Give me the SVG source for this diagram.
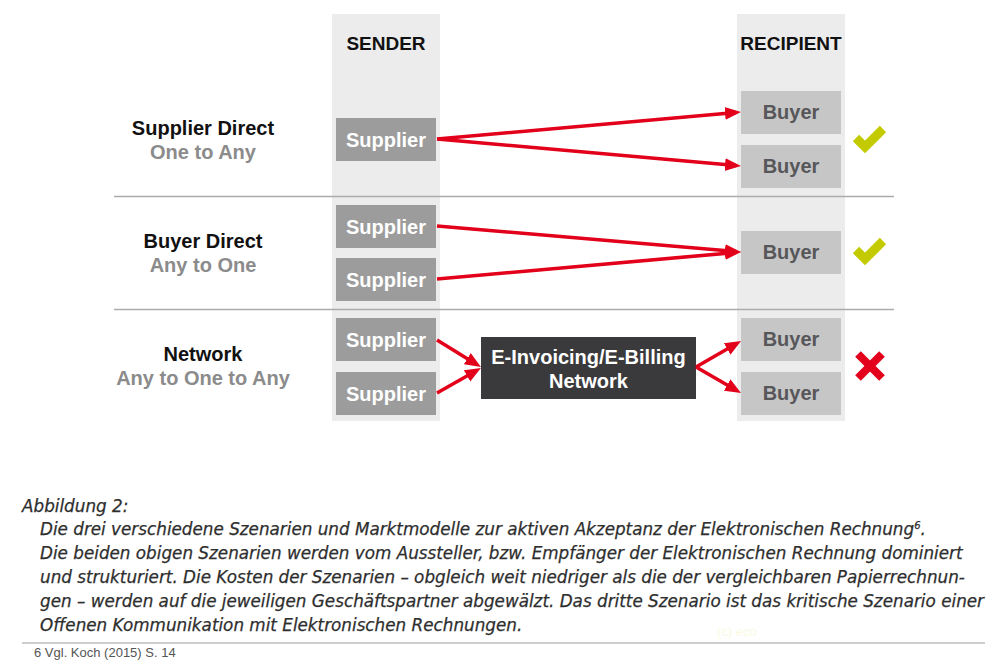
<svg xmlns="http://www.w3.org/2000/svg" width="993" height="667" viewBox="0 0 993 667">
<defs>
<style>
.band{fill:#ececec}
.sup{fill:#9c9c9c}
.buy{fill:#c6c6c7}
.net{fill:#3a3a3c}
.bt{font-family:"Liberation Sans",Arial,sans-serif;font-weight:bold;font-size:20px;text-anchor:middle}
.st{fill:#ffffff}
.byt{fill:#57575a}
.hd{font-family:"Liberation Sans",Arial,sans-serif;font-weight:bold;font-size:19px;text-anchor:middle;fill:#111}
.lt{font-family:"Liberation Sans",Arial,sans-serif;font-weight:bold;font-size:20px;text-anchor:middle;fill:#111}
.lg{fill:#8b8b8b}
.sep{stroke:#ababab;stroke-width:1.3}
.arr{stroke:#e2001a;stroke-width:3.5;fill:none;marker-end:url(#ah)}
.cap{font-family:"DejaVu Sans",sans-serif;font-style:italic;font-size:16.8px;fill:#2e2e2e;stroke:#2e2e2e;stroke-width:0.25}
</style>
<marker id="ah" markerUnits="userSpaceOnUse" markerWidth="17" markerHeight="14" refX="11" refY="7" orient="auto">
<path d="M0,0.5 L16,7 L0,13.5 z" fill="#e2001a"/>
</marker>
</defs>
<rect width="993" height="667" fill="#ffffff"/>

<g id="columns">
<rect class="band" x="332" y="14" width="108" height="407"/>
<rect class="band" x="737" y="14" width="108" height="407"/>
<text class="hd" x="386" y="50">SENDER</text>
<text class="hd" x="791" y="50">RECIPIENT</text>
</g>

<g id="separators">
<line class="sep" x1="114" y1="196.5" x2="894" y2="196.5"/>
<line class="sep" x1="114" y1="309.5" x2="894" y2="309.5"/>
</g>

<g id="labels">
<text class="lt" x="203" y="135">Supplier Direct</text>
<text class="lt lg" x="203" y="159">One to Any</text>
<text class="lt" x="203" y="248">Buyer Direct</text>
<text class="lt lg" x="203" y="272">Any to One</text>
<text class="lt" x="203" y="361">Network</text>
<text class="lt lg" x="203" y="385">Any to One to Any</text>
</g>

<g id="supplier1"><rect class="sup" x="336" y="118" width="100" height="43"/><text class="bt st" x="386" y="146.5">Supplier</text></g>
<g id="supplier2"><rect class="sup" x="336" y="205" width="100" height="43"/><text class="bt st" x="386" y="233.5">Supplier</text></g>
<g id="supplier3"><rect class="sup" x="336" y="258" width="100" height="43"/><text class="bt st" x="386" y="286.5">Supplier</text></g>
<g id="supplier4"><rect class="sup" x="336" y="318" width="100" height="43"/><text class="bt st" x="386" y="346.5">Supplier</text></g>
<g id="supplier5"><rect class="sup" x="336" y="372" width="100" height="43"/><text class="bt st" x="386" y="400.5">Supplier</text></g>

<g id="buyer1"><rect class="buy" x="741" y="91" width="100" height="43"/><text class="bt byt" x="791" y="119">Buyer</text></g>
<g id="buyer2"><rect class="buy" x="741" y="145" width="100" height="43"/><text class="bt byt" x="791" y="173">Buyer</text></g>
<g id="buyer3"><rect class="buy" x="741" y="231" width="100" height="43"/><text class="bt byt" x="791" y="259">Buyer</text></g>
<g id="buyer4"><rect class="buy" x="741" y="318" width="100" height="43"/><text class="bt byt" x="791" y="346">Buyer</text></g>
<g id="buyer5"><rect class="buy" x="741" y="372" width="100" height="43"/><text class="bt byt" x="791" y="400">Buyer</text></g>

<g id="network"><rect class="net" x="481" y="337" width="215" height="62"/>
<text class="bt st" x="588.5" y="363.5">E-Invoicing/E-Billing</text>
<text class="bt st" x="588.5" y="387.5">Network</text></g>

<g id="connectors">
<line class="arr" x1="437" y1="139" x2="736" y2="112.4"/>
<line class="arr" x1="437" y1="139" x2="736" y2="165.6"/>
<line class="arr" x1="437" y1="226" x2="736" y2="251.6"/>
<line class="arr" x1="437" y1="279" x2="736" y2="252.4"/>
<line class="arr" x1="437" y1="340" x2="476.7" y2="364.4"/>
<line class="arr" x1="437" y1="393" x2="476.6" y2="370.5"/>
<line class="arr" x1="696" y1="367" x2="736.7" y2="343.5"/>
<line class="arr" x1="696" y1="367" x2="736.7" y2="390.5"/>
</g>

<g id="marks">
<polyline points="856,138 865,147 883,129" fill="none" stroke="#c3cb00" stroke-width="9"/>
<polyline points="856,250 865,259 883,241" fill="none" stroke="#c3cb00" stroke-width="9"/>
<line x1="858" y1="354" x2="882" y2="378" stroke="#e2001a" stroke-width="8"/>
<line x1="882" y1="354" x2="858" y2="378" stroke="#e2001a" stroke-width="8"/>
</g>

<g id="caption">
<text class="cap" x="22" y="512">Abbildung 2:</text>
<text class="cap" x="40" y="535">Die drei verschiedene Szenarien und Marktmodelle zur aktiven Akzeptanz der Elektronischen Rechnung<tspan font-size="10" dy="-6">6</tspan><tspan dy="6">.</tspan></text>
<text class="cap" x="40" y="559">Die beiden obigen Szenarien werden vom Aussteller, bzw. Empfänger der Elektronischen Rechnung dominiert</text>
<text class="cap" x="40" y="583">und strukturiert. Die Kosten der Szenarien – obgleich weit niedriger als die der vergleichbaren Papierrechnun-</text>
<text class="cap" x="40" y="607" textLength="944">gen – werden auf die jeweiligen Geschäftspartner abgewälzt. Das dritte Szenario ist das kritische Szenario einer</text>
<text class="cap" x="40" y="631">Offenen Kommunikation mit Elektronischen Rechnungen.</text>
<text x="717" y="636" font-family="'Liberation Sans',Arial,sans-serif" font-size="13" fill="#fafae2">(c) eco</text>
<line x1="22" y1="643" x2="985" y2="643" stroke="#bdbdbd" stroke-width="1.5"/>
<text x="34" y="657" font-family="'Liberation Sans',Arial,sans-serif" font-size="13" fill="#555">6 Vgl. Koch (2015) S. 14</text>
</g>
</svg>
